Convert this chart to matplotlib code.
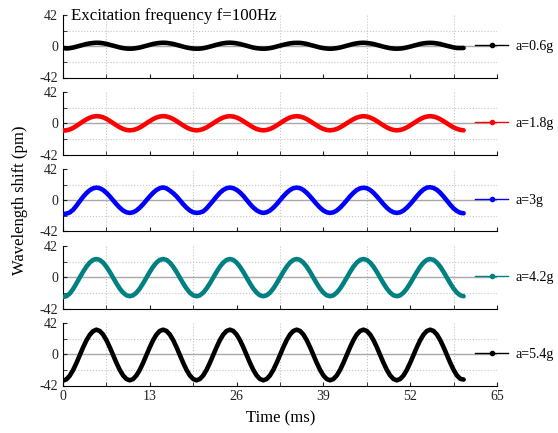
import matplotlib
matplotlib.use("Agg")
import matplotlib.pyplot as plt
import numpy as np
from matplotlib.lines import Line2D
from matplotlib.ticker import MultipleLocator

plt.rcParams["font.family"] = ["Liberation Serif", "DejaVu Serif"]
plt.rcParams["axes.unicode_minus"] = False

# time axis, 0.5 ms steps (ms)
time_ms = np.arange(0, 60.5, 0.5)

# wavelength shift (pm), one row per 10 ms
shift_06g = [
    -2.2, -3.0, -2.6, -1.8, -0.6, 0.6, 1.8, 3.0, 3.8, 4.4, 4.7, 4.6, 4.0, 3.2, 2.0, 0.8, -0.4, -1.6, -2.5, -3.1,
    -3.3, -3.1, -2.5, -1.7, -0.5, 0.7, 1.9, 3.1, 3.9, 4.5, 4.7, 4.5, 3.9, 3.1, 1.9, 0.7, -0.5, -1.7, -2.5, -3.1,
    -3.3, -3.2, -2.6, -1.7, -0.5, 0.7, 2.0, 3.1, 4.0, 4.6, 4.8, 4.5, 3.9, 3.0, 1.9, 0.7, -0.6, -1.8, -2.6, -3.1,
    -3.3, -3.1, -2.5, -1.6, -0.4, 0.8, 1.9, 3.0, 3.9, 4.4, 4.6, 4.5, 3.9, 3.1, 1.9, 0.7, -0.5, -1.7, -2.5, -3.1,
    -3.4, -3.1, -2.5, -1.7, -0.5, 0.7, 1.9, 3.1, 3.9, 4.5, 4.7, 4.4, 3.8, 3.0, 1.8, 0.6, -0.6, -1.7, -2.6, -3.1,
    -3.3, -3.1, -2.5, -1.6, -0.5, 0.7, 1.9, 3.1, 3.9, 4.4, 4.6, 4.4, 3.8, 3.0, 1.8, 0.6, -0.5, -1.6, -2.3, -2.4,
    -2.3]
shift_18g = [
    -9.8, -9.5, -8.4, -6.4, -3.6, -0.6, 2.4, 5.2, 7.4, 8.9, 9.5, 9.2, 8.0, 5.9, 3.2, 0.2, -2.7, -5.5, -7.6, -9.0,
    -9.5, -9.1, -7.8, -5.7, -3.0, 0.0, 2.9, 5.6, 7.7, 9.0, 9.6, 9.1, 7.8, 5.7, 3.0, 0.0, -2.9, -5.6, -7.7, -9.0,
    -9.6, -9.0, -7.7, -5.6, -2.9, 0.0, 2.9, 5.6, 7.7, 9.0, 9.5, 9.0, 7.7, 5.6, 2.9, 0.0, -2.9, -5.6, -7.7, -9.0,
    -9.5, -9.0, -7.7, -5.6, -2.9, 0.0, 2.9, 5.6, 7.7, 9.0, 9.5, 9.0, 7.7, 5.6, 2.9, 0.0, -2.9, -5.6, -7.7, -9.0,
    -9.5, -9.0, -7.7, -5.6, -2.9, 0.0, 2.8, 5.5, 7.6, 8.9, 9.5, 9.0, 7.7, 5.6, 2.9, 0.0, -2.9, -5.6, -7.7, -9.0,
    -9.5, -9.0, -7.7, -5.6, -2.9, 0.0, 2.9, 5.6, 7.7, 9.0, 9.5, 9.0, 7.6, 5.5, 2.8, -0.1, -3.0, -5.6, -7.6, -8.9,
    -9.5]
shift_30g = [
    -18.5, -18.0, -16.5, -13.0, -7.5, -1.5, 4.5, 9.5, 13.5, 16.0, 17.0, 16.2, 13.8, 10.0, 5.3, 0.0, -5.3, -10.0, -13.8, -16.2,
    -17.0, -16.2, -13.8, -10.0, -5.3, 0.0, 5.3, 10.0, 13.8, 16.2, 17.2, 16.0, 13.0, 9.5, 5.3, 0.0, -5.3, -10.0, -13.8, -16.2,
    -17.0, -16.5, -15.0, -11.0, -5.8, -0.5, 5.0, 10.0, 13.8, 16.2, 17.0, 16.2, 14.0, 10.5, 6.0, 0.5, -5.0, -9.8, -13.5, -16.0,
    -17.0, -16.2, -13.8, -10.0, -5.3, 0.0, 5.3, 10.0, 13.8, 16.2, 17.0, 16.2, 13.8, 10.0, 5.3, 0.0, -5.3, -10.0, -13.8, -16.2,
    -17.0, -16.2, -13.8, -10.0, -5.3, 0.0, 5.3, 10.0, 13.8, 16.0, 16.8, 16.2, 13.8, 10.0, 5.3, 0.0, -5.3, -10.0, -13.8, -16.2,
    -17.0, -16.2, -13.8, -10.0, -5.3, 0.0, 5.5, 10.5, 14.5, 17.0, 17.5, 16.5, 14.0, 10.0, 5.0, -0.5, -6.0, -11.0, -14.5, -16.8,
    -17.5]
shift_42g = [
    -26.5, -25.5, -22.0, -16.0, -8.5, -0.5, 7.2, 14.2, 19.7, 23.3, 24.5, 23.3, 19.7, 14.2, 7.2, -0.5, -8.2, -15.2, -20.7, -24.3,
    -25.5, -24.3, -20.7, -15.2, -8.2, -0.5, 7.2, 14.2, 19.7, 23.3, 24.5, 23.3, 19.7, 14.2, 7.2, -0.5, -8.2, -15.2, -20.7, -24.3,
    -25.5, -24.3, -20.7, -15.2, -8.2, -0.5, 7.2, 14.2, 19.7, 23.3, 24.5, 23.3, 19.7, 14.2, 7.2, -0.5, -8.2, -15.2, -20.7, -24.3,
    -25.5, -24.3, -20.7, -15.2, -8.2, -0.5, 7.2, 14.2, 19.7, 23.3, 24.5, 23.3, 19.7, 14.2, 7.2, -0.5, -8.2, -15.2, -20.7, -24.3,
    -25.5, -24.3, -20.7, -15.2, -8.2, -0.5, 7.2, 14.2, 19.7, 23.3, 24.5, 23.3, 19.7, 14.2, 7.2, -0.5, -8.2, -15.2, -20.7, -24.3,
    -25.5, -24.3, -20.7, -15.2, -8.2, -0.5, 7.2, 14.2, 19.7, 23.3, 24.5, 23.3, 19.7, 14.2, 7.2, -0.5, -8.2, -15.2, -20.7, -24.3,
    -25.5]
shift_54g = [
    -35.5, -33.8, -29.0, -21.5, -12.0, -1.5, 9.0, 18.5, 26.0, 31.0, 33.0, 31.3, 26.5, 19.0, 9.5, -1.0, -11.5, -21.0, -28.5, -33.3,
    -35.0, -33.3, -28.5, -21.0, -11.5, -1.0, 9.5, 19.0, 26.5, 31.3, 33.0, 31.3, 26.5, 19.0, 9.5, -1.0, -11.5, -21.0, -28.5, -33.3,
    -35.0, -33.3, -28.5, -21.0, -11.5, -1.0, 9.5, 19.0, 26.5, 31.3, 33.0, 31.3, 26.5, 19.0, 9.5, -1.0, -11.5, -21.0, -28.5, -33.3,
    -35.0, -33.3, -28.5, -21.0, -11.5, -1.0, 9.5, 19.0, 26.5, 31.3, 33.0, 31.3, 26.5, 19.0, 9.5, -1.0, -11.5, -21.0, -28.5, -33.3,
    -35.0, -33.3, -28.5, -21.0, -11.5, -1.0, 9.5, 19.0, 26.5, 31.3, 33.0, 31.3, 26.5, 19.0, 9.5, -1.0, -11.5, -21.0, -28.5, -33.3,
    -35.0, -33.3, -28.5, -21.0, -11.5, -1.0, 9.5, 19.0, 26.5, 31.3, 33.0, 31.3, 26.5, 19.0, 9.5, -1.0, -11.5, -21.0, -28.5, -33.0,
    -34.0]

series = [shift_06g, shift_18g, shift_30g, shift_42g, shift_54g]
labels = ["a=0.6g", "a=1.8g", "a=3g", "a=4.2g", "a=5.4g"]
colors = ["black", "red", "blue", "#008080", "black"]
x_ticks = [0, 13, 26, 39, 52, 65]
y_ticks = [-42, 0, 42]

W, H = 558, 433
fig = plt.figure(figsize=(W / 100, H / 100), dpi=100)

left, width, height = 63, 434, 62.5
for i, (ys, col, lab) in enumerate(zip(series, colors, labels)):
    top = 15 + i * 77
    ax = fig.add_axes([left / W, 1 - (top + height) / H, width / W, height / H])
    ax.axhline(0, color="#a8a8a8", lw=1, zorder=1)
    ax.plot(time_ms, ys, color=col, lw=3.3, solid_joinstyle="round",
            solid_capstyle="round", zorder=3)

    ax.set_xlim(0, 65)
    ax.set_ylim(-42, 42)
    ax.set_xticks(x_ticks)
    ax.set_yticks(y_ticks)
    ax.xaxis.set_minor_locator(MultipleLocator(6.5))
    ax.yaxis.set_minor_locator(MultipleLocator(21))
    ax.grid(which="minor", ls=":", color="#c4c4c4", lw=0.8)
    ax.tick_params(which="both", direction="in", length=3, labelsize=10,
                   colors="#222222")
    for side in ("top", "right"):
        ax.spines[side].set_visible(False)
    if i < len(series) - 1:
        ax.tick_params(labelbottom=False)

    handle = Line2D([], [], color=col, lw=1, marker="o", markersize=3)
    ax.legend([handle], [lab], loc="center left",
              bbox_to_anchor=(412 / width, 0.5), frameon=False,
              handlelength=2.4, handletextpad=0.5, borderpad=0,
              borderaxespad=0, fontsize=10, numpoints=1)

    if i == 0:
        ax.text(0.018, 0.92, "Excitation frequency f=100Hz",
                transform=ax.transAxes, va="baseline", fontsize=12.2)

fig.text(20 / W, 1 - 200 / H, "Wavelength shift (pm)", rotation=90,
         ha="center", va="center", fontsize=12)
fig.text(281 / W, 1 - 418 / H, "Time (ms)", ha="center", va="center",
         fontsize=12)

fig.savefig("out.png", dpi=100)
